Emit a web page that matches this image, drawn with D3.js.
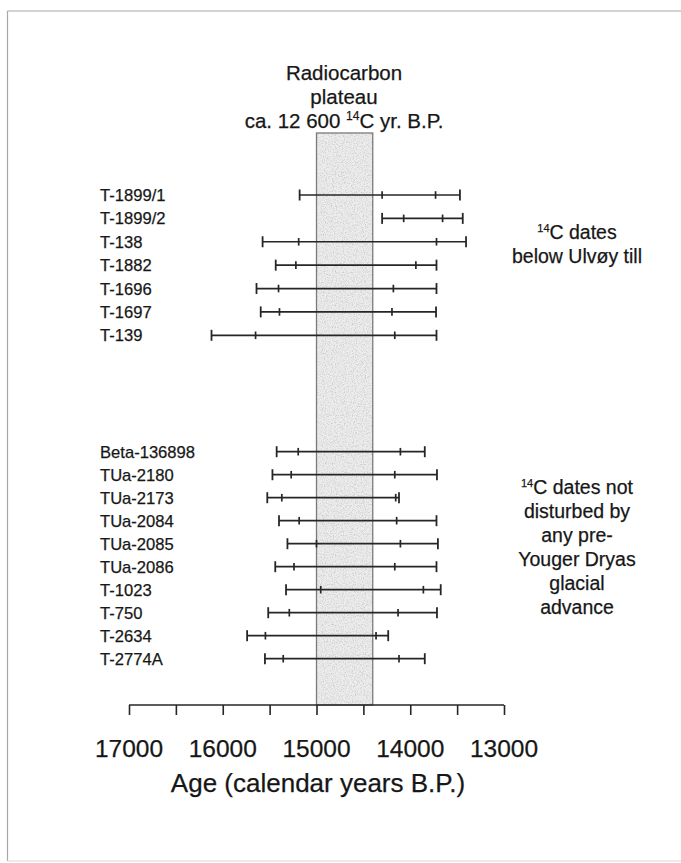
<!DOCTYPE html>
<html>
<head>
<meta charset="utf-8">
<script src="https://cdn.jsdelivr.net/npm/d3@7"></script>
<style>
  html, body { margin: 0; padding: 0; background: #fff; }
  svg { display: block; font-family: "Liberation Sans", Arial, sans-serif; }
  svg text { stroke: #1e1e1e; stroke-width: 0.25px; }
</style>
</head>
<body>
<svg id="chart" width="681" height="863"></svg>
<script>
// Calibrated age ranges (calendar years B.P.): outer = 2 sigma, inner = 1 sigma
const tillLabels = ["T-1899/1", "T-1899/2", "T-138", "T-1882", "T-1696", "T-1697", "T-139"];
const tillOuterOld = [15180, 14300, 15575, 15435, 15640, 15595, 16120];
const tillInnerOld = [14300, 14070, 15190, 15220, 15405, 15395, 15650];
const tillInnerYoung = [13730, 13655, 13720, 13940, 14180, 14195, 14165];
const tillOuterYoung = [13470, 13440, 13405, 13720, 13720, 13725, 13720];

const undisturbedLabels = ["Beta-136898", "TUa-2180", "TUa-2173", "TUa-2084", "TUa-2085",
  "TUa-2086", "T-1023", "T-750", "T-2634", "T-2774A"];
const undOuterOld = [15425, 15470, 15525, 15400, 15310, 15440, 15325, 15515, 15740, 15550];
const undInnerOld = [15195, 15270, 15370, 15185, 15000, 15240, 14955, 15290, 15545, 15355];
const undInnerYoung = [14105, 14165, 14155, 14145, 14105, 14165, 13860, 14130, 14365, 14120];
const undOuterYoung = [13845, 13715, 14120, 13720, 13705, 13720, 13675, 13715, 14235, 13845];

// Radiocarbon plateau (ca. 12 600 14C yr B.P.) in calendar years
const plateau = [15000, 14400];

const axisTicks = [17000, 16500, 16000, 15500, 15000, 14500, 14000, 13500, 13000];
const axisTickLabels = [17000, 16000, 15000, 14000, 13000];

const ink = "#161616";
const svg = d3.select("#chart");

// Page frame
const frame = svg.append("g").attr("stroke", "#a8a8a8").attr("stroke-width", 1.2).attr("fill", "none");
frame.append("line").attr("x1", 7.5).attr("x2", 681).attr("y1", 11).attr("y2", 11);
frame.append("line").attr("x1", 7.5).attr("x2", 7.5).attr("y1", 11).attr("y2", 861);
frame.append("line").attr("x1", 7.5).attr("x2", 681).attr("y1", 861).attr("y2", 861).attr("stroke", "#d8d8d8");

// Age axis runs from old (left) to young (right)
const x = d3.scaleLinear().domain([17000, 13000]).range([129, 504]);
const axisY = 705;
const bandTop = 133;

// Grainy texture for the plateau band
const defs = svg.append("defs");
const grain = defs.append("filter").attr("id", "grain").attr("x", 0).attr("y", 0).attr("width", 1).attr("height", 1);
grain.append("feTurbulence").attr("type", "fractalNoise").attr("baseFrequency", 0.9).attr("numOctaves", 2).attr("seed", 4).attr("result", "noise");
grain.append("feColorMatrix").attr("in", "noise").attr("type", "matrix")
  .attr("values", "0 0 0 0 0.55  0 0 0 0 0.55  0 0 0 0 0.55  0 0 0 -2.2 1.25").attr("result", "dots");
grain.append("feComposite").attr("in", "dots").attr("in2", "SourceGraphic").attr("operator", "in").attr("result", "clipped");
grain.append("feMerge").selectAll("feMergeNode").data(["SourceGraphic", "clipped"]).join("feMergeNode").attr("in", d => d);

svg.append("rect")
  .attr("x", x(plateau[0])).attr("y", bandTop)
  .attr("width", x(plateau[1]) - x(plateau[0])).attr("height", axisY - bandTop)
  .attr("fill", "#ededed").attr("filter", "url(#grain)");
svg.append("rect")
  .attr("x", x(plateau[0])).attr("y", bandTop)
  .attr("width", x(plateau[1]) - x(plateau[0])).attr("height", axisY - bandTop)
  .attr("fill", "none").attr("stroke", "#7a7a7a").attr("stroke-width", 1.3);

// Plateau title
const title = svg.append("text").attr("text-anchor", "middle").attr("font-size", 20.5).attr("fill", ink);
title.append("tspan").attr("x", 344).attr("y", 80).text("Radiocarbon");
title.append("tspan").attr("x", 344).attr("y", 104).text("plateau");
const t3 = title.append("tspan").attr("x", 344).attr("y", 128);
t3.append("tspan").text("ca. 12 600 ");
t3.append("tspan").attr("font-size", 12).attr("dy", -8).text("14");
t3.append("tspan").attr("dy", 8).text("C yr. B.P.");

// Rows of the two groups
const yTill = d3.scalePoint().domain(tillLabels).range([195, 335.3]);
const yUnd = d3.scalePoint().domain(undisturbedLabels).range([451.7, 658.7]);

function rows(labels, oOld, iOld, iYoung, oYoung, y) {
  return labels.map((l, i) => ({ label: l, oOld: oOld[i], iOld: iOld[i], iYoung: iYoung[i], oYoung: oYoung[i], y: y(l) }));
}
const data = rows(tillLabels, tillOuterOld, tillInnerOld, tillInnerYoung, tillOuterYoung, yTill)
  .concat(rows(undisturbedLabels, undOuterOld, undInnerOld, undInnerYoung, undOuterYoung, yUnd));

const g = svg.append("g").selectAll("g").data(data).join("g");
g.append("text")
  .attr("x", 100).attr("y", d => d.y + 6)
  .attr("font-size", 16.6).attr("fill", ink)
  .text(d => d.label);
g.append("line")
  .attr("x1", d => x(d.oOld)).attr("x2", d => x(d.oYoung))
  .attr("y1", d => d.y).attr("y2", d => d.y)
  .attr("stroke", "#262626").attr("stroke-width", 1.7);
g.selectAll(".outer").data(d => [d.oOld, d.oYoung].map(v => ({ v, y: d.y }))).join("line")
  .attr("class", "outer")
  .attr("x1", e => x(e.v)).attr("x2", e => x(e.v))
  .attr("y1", e => e.y - 5.5).attr("y2", e => e.y + 5.5)
  .attr("stroke", "#262626").attr("stroke-width", 1.8);
g.selectAll(".inner").data(d => [d.iOld, d.iYoung].map(v => ({ v, y: d.y }))).join("line")
  .attr("class", "inner")
  .attr("x1", e => x(e.v)).attr("x2", e => x(e.v))
  .attr("y1", e => e.y - 3.8).attr("y2", e => e.y + 3.8)
  .attr("stroke", "#262626").attr("stroke-width", 1.7);

// Group annotations
function note(lines, cx, y0, step) {
  const t = svg.append("text").attr("text-anchor", "middle").attr("font-size", 19.5).attr("fill", ink);
  lines.forEach((ln, i) => {
    const ts = t.append("tspan").attr("x", cx).attr("y", y0 + i * step);
    if (ln.startsWith("14C")) {
      ts.append("tspan").attr("font-size", 11).attr("dy", -7).text("14");
      ts.append("tspan").attr("dy", 7).text(ln.slice(2));
    } else {
      ts.text(ln);
    }
  });
}
note(["14C dates", "below Ulvøy till"], 577, 238.5, 24.5);
note(["14C dates not", "disturbed by", "any pre-", "Youger Dryas", "glacial", "advance"], 577, 494, 24);

// Age axis
const axis = d3.axisBottom(x).tickValues(axisTicks).tickSize(10).tickFormat("");
const ax = svg.append("g").attr("transform", `translate(0,${axisY})`).call(axis);
ax.select(".domain").attr("stroke", "#262626").attr("stroke-width", 1.6).attr("d", `M${x(17000)},0H${x(13000)}`);
ax.selectAll(".tick line").attr("stroke", "#262626").attr("stroke-width", 1.6);

svg.append("g").selectAll("text").data(axisTickLabels).join("text")
  .attr("x", d => x(d)).attr("y", 757)
  .attr("text-anchor", "middle").attr("font-size", 24.5).attr("fill", ink)
  .text(d => d);

svg.append("text")
  .attr("x", 318).attr("y", 792)
  .attr("text-anchor", "middle").attr("font-size", 26).attr("fill", ink)
  .text("Age (calendar years B.P.)");
</script>
</body>
</html>
